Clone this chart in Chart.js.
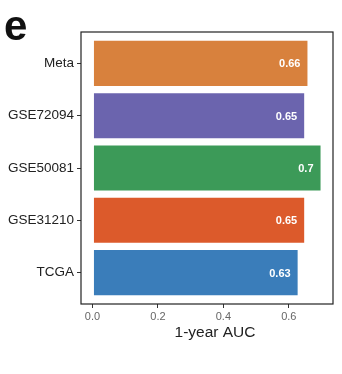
<!DOCTYPE html>
<html>
<head>
<meta charset="utf-8">
<script src="https://cdn.jsdelivr.net/npm/chart.js@4"></script>
<style>
  html,body{margin:0;padding:0;background:#fff}
  #wrap{position:relative;width:342px;height:374px}
</style>
</head>
<body>
<div id="wrap"><canvas id="c" width="342" height="374"></canvas></div>
<script>
// データ（上から順）
const cohorts = ['Meta', 'GSE72094', 'GSE50081', 'GSE31210', 'TCGA'];
const auc = [0.66, 0.65, 0.70, 0.65, 0.63];
const barColors = ['#D8813D', '#6B64AE', '#3C9A58', '#DC5A2B', '#3A7DBA'];
const xTicks = [0, 0.2, 0.4, 0.6];
const axisTitle = '1-year AUC';
const panelLetter = 'e';

const FONT = "'Liberation Sans', Arial, sans-serif";

// 枠線・数値ラベル・パネル記号
const decor = {
  id: 'decor',
  afterDatasetsDraw(chart) {
    const { ctx } = chart;
    const meta = chart.getDatasetMeta(0);
    ctx.save();
    ctx.fillStyle = '#fff';
    ctx.font = `bold 11px ${FONT}`;
    ctx.textAlign = 'right';
    ctx.textBaseline = 'middle';
    meta.data.forEach((bar, i) => {
      ctx.fillText(String(auc[i]), bar.x - 8, bar.y + 1);
    });
    ctx.restore();
  },
  afterDraw(chart) {
    const { ctx, chartArea: a } = chart;
    ctx.save();
    ctx.strokeStyle = '#222';
    ctx.lineWidth = 1.2;
    ctx.strokeRect(a.left, a.top, a.right - a.left, a.bottom - a.top);
    ctx.fillStyle = '#111';
    ctx.font = `bold 42px ${FONT}`;
    ctx.textAlign = 'left';
    ctx.textBaseline = 'alphabetic';
    ctx.fillText(panelLetter, 4, 40);
    ctx.fillStyle = '#222';
    ctx.font = `15.5px ${FONT}`;
    ctx.textAlign = 'center';
    ctx.fillText(axisTitle, 215, 337);
    ctx.restore();
  }
};

new Chart(document.getElementById('c'), {
  type: 'bar',
  data: {
    datasets: [{
      data: auc.map((v, i) => ({ x: v, y: i })),
      backgroundColor: barColors,
      borderColor: 'rgba(255,255,255,0.7)',
      borderWidth: 1,
      borderSkipped: false,
      barPercentage: 0.9,
      categoryPercentage: 1
    }]
  },
  options: {
    indexAxis: 'y',
    responsive: false,
    animation: false,
    layout: { padding: { left: 0, top: 32, right: 9, bottom: 0 } },
    plugins: { legend: { display: false }, tooltip: { enabled: false } },
    scales: {
      x: {
        type: 'linear',
        min: -0.035, max: 0.735,
        afterBuildTicks: s => { s.ticks = xTicks.map(v => ({ value: v })); },
        afterFit: s => { s.height = 70; },
        ticks: { color: '#666', font: { family: FONT, size: 11 }, padding: 2,
                 callback: v => v.toFixed(1) },
        grid: { drawOnChartArea: false, tickLength: 4, color: '#333' },
        border: { display: false }
      },
      y: {
        type: 'linear',
        reverse: true,
        offset: false,
        min: -0.6, max: 4.6,
        afterBuildTicks: s => { s.ticks = cohorts.map((_, i) => ({ value: i })); },
        afterFit: s => { s.width = 81; },
        ticks: { color: '#222', font: { family: FONT, size: 13.5 }, padding: 3,
                 callback: v => cohorts[v] },
        grid: { drawOnChartArea: false, tickLength: 4, color: '#333', offset: false },
        border: { display: false }
      }
    }
  },
  plugins: [decor]
});
</script>
</body>
</html>
